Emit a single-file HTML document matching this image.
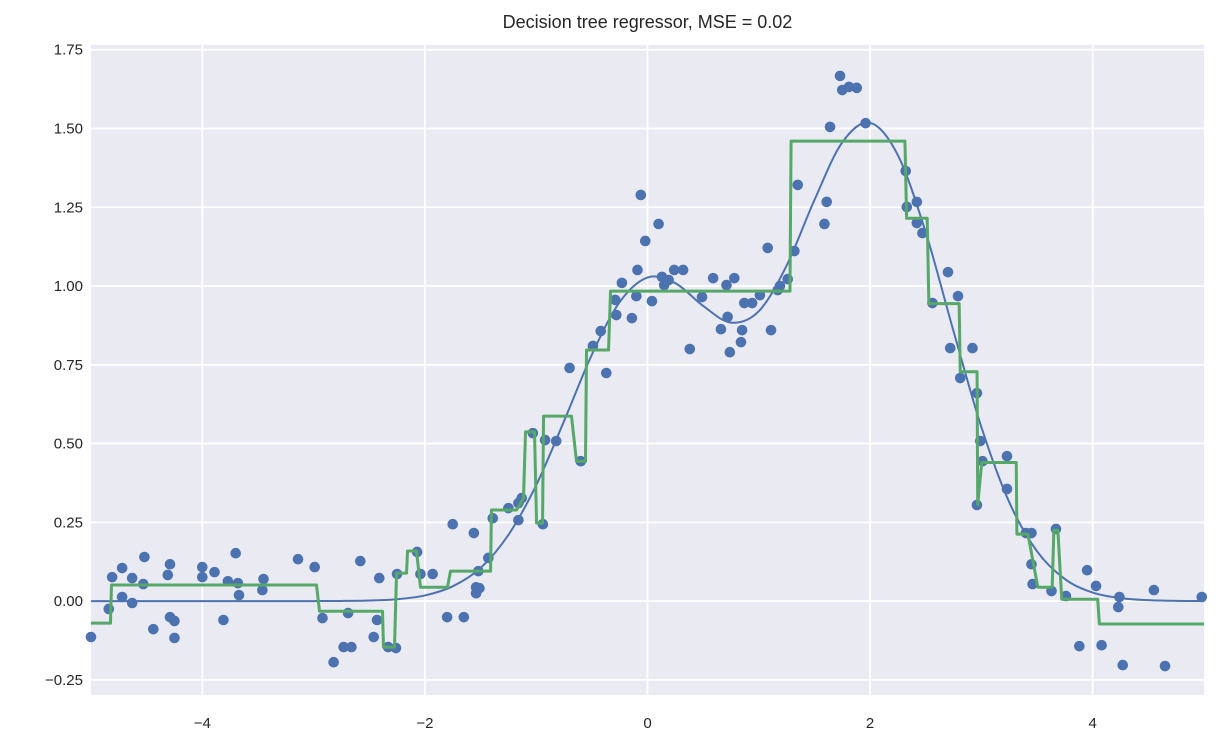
<!DOCTYPE html>
<html><head><meta charset="utf-8"><style>
body{margin:0;background:#fff;}
svg{display:block;font-family:"Liberation Sans",sans-serif;}
</style></head><body>
<svg id="chart" width="1219" height="750" xmlns="http://www.w3.org/2000/svg"></svg>
<script>
// ---- data ----
const xTicks=[-4,-2,0,2,4];
const yTicks=[-0.25,0,0.25,0.5,0.75,1,1.25,1.5,1.75];
const yTickLabels=["−0.25","0.00","0.25","0.50","0.75","1.00","1.25","1.50","1.75"];
const xTickLabels=["−4","−2","0","2","4"];
const curveX=[-5,-4.75,-4.5,-4.25,-4,-3.75,-3.5,-3.25,-3,-2.75,-2.5,-2.25,-2,-1.75,-1.5,-1.25,-1,-0.75,-0.5,-0.25,0,0.25,0.5,0.75,1,1.25,1.5,1.75,2,2.25,2.5,2.75,3,3.25,3.5,3.75,4,4.25,4.5,4.75,5];
const curveY=[0,0,0,0,0,0,0,0,0.0001,0.0005,0.002,0.006,0.018,0.047,0.105,0.210,0.368,0.571,0.782,0.949,1.027,1.009,0.937,0.884,0.920,1.065,1.273,1.456,1.518,1.415,1.170,0.856,0.552,0.314,0.158,0.070,0.027,0.0095,0.003,0.0008,0.0002];
const treeX=[-5,-4.825,-4.816,-2.974,-2.947,-2.381,-2.372,-2.273,-2.255,-2.165,-2.156,-2.075,-2.04,-1.797,-1.77,-1.41,-1.402,-1.177,-1.114,-1.096,-1.015,-0.997,-0.943,-0.934,-0.683,-0.638,-0.557,-0.548,-0.35,-0.332,1.28,1.29,2.313,2.328,2.513,2.528,2.8,2.81,2.961,2.967,3.003,3.313,3.319,3.418,3.507,3.636,3.651,3.687,3.722,4.045,4.06,5];
const treeY=[-0.07,-0.07,0.051,0.051,-0.032,-0.032,-0.146,-0.146,0.089,0.089,0.159,0.159,0.044,0.044,0.095,0.095,0.289,0.289,0.327,0.537,0.537,0.248,0.248,0.587,0.587,0.444,0.444,0.797,0.797,0.984,0.984,1.46,1.46,1.215,1.215,0.944,0.944,0.728,0.728,0.306,0.44,0.44,0.2125,0.2125,0.044,0.044,0.225,0.225,0.006,0.006,-0.0725,-0.0725];
const ptsX=[-5.00,-4.84,-4.81,-4.72,-4.72,-4.63,-4.63,-4.52,-4.53,-4.44,-4.31,-4.29,-4.29,-4.25,-4.25,-4.00,-4.00,-3.89,-3.81,-3.77,-3.70,-3.68,-3.67,-3.45,-3.46,-3.14,-2.99,-2.92,-2.82,-2.73,-2.66,-2.69,-2.58,-2.46,-2.43,-2.41,-2.33,-2.26,-2.25,-2.07,-2.04,-1.93,-1.80,-1.65,-1.75,-1.56,-1.54,-1.51,-1.54,-1.52,-1.43,-1.39,-1.25,-1.16,-1.16,-1.13,-1.03,-0.94,-0.92,-0.82,-0.70,-0.60,-0.49,-0.42,-0.37,-0.28,-0.29,-0.23,-0.14,-0.10,-0.09,-0.06,-0.02,0.04,0.10,0.13,0.15,0.19,0.24,0.32,0.38,0.49,0.59,0.66,0.71,0.72,0.74,0.78,0.84,0.85,0.87,0.94,1.01,1.08,1.11,1.19,1.26,1.32,1.35,1.17,1.59,1.61,1.64,1.73,1.75,1.81,1.88,1.96,2.32,2.33,2.42,2.42,2.47,2.56,2.70,2.79,2.72,2.92,2.81,2.96,2.99,3.01,2.96,3.23,3.23,3.40,3.45,3.45,3.46,3.63,3.67,3.76,3.95,4.03,3.88,4.08,4.24,4.23,4.27,4.55,4.65,4.98];
const ptsY=[-0.114,-0.025,0.076,0.105,0.013,0.073,-0.006,0.140,0.054,-0.089,0.083,0.117,-0.051,-0.063,-0.117,0.108,0.076,0.092,-0.060,0.063,0.152,0.057,0.019,0.070,0.035,0.133,0.108,-0.054,-0.194,-0.146,-0.146,-0.038,0.127,-0.114,-0.060,0.073,-0.146,-0.149,0.086,0.156,0.086,0.086,-0.051,-0.051,0.244,0.216,0.044,0.041,0.025,0.095,0.137,0.263,0.295,0.257,0.311,0.327,0.533,0.244,0.511,0.508,0.740,0.444,0.810,0.857,0.724,0.908,0.956,1.010,0.898,0.968,1.051,1.289,1.143,0.952,1.197,1.029,1.003,1.019,1.051,1.051,0.800,0.965,1.025,0.863,1.003,0.902,0.790,1.025,0.822,0.860,0.946,0.946,0.971,1.121,0.860,1.000,1.022,1.111,1.321,0.987,1.197,1.267,1.505,1.667,1.622,1.632,1.629,1.517,1.365,1.251,1.267,1.200,1.168,0.946,1.044,0.968,0.803,0.803,0.708,0.660,0.508,0.444,0.305,0.460,0.356,0.216,0.216,0.117,0.054,0.032,0.229,0.016,0.098,0.048,-0.143,-0.140,0.013,-0.019,-0.203,0.035,-0.206,0.013];

// ---- axes ----
const L=91,R=1204,T=45,B=695;
const X0=-5,X1=5,Y0=-0.298,Y1=1.765;
const sx=v=>L+(v-X0)/(X1-X0)*(R-L);
const sy=v=>B-(v-Y0)/(Y1-Y0)*(B-T);
const NS="http://www.w3.org/2000/svg";
const svg=document.getElementById('chart');
function mk(tag,attrs,parent){const e=document.createElementNS(NS,tag);for(const k in attrs)e.setAttribute(k,attrs[k]);(parent||svg).appendChild(e);return e;}

const bg=mk('rect',{x:L,y:T,width:R-L,height:B-T,fill:'#eaeaf2'});



xTicks.forEach((t,i)=>{
  const g=mk('line',{x1:sx(t),x2:sx(t),y1:T,y2:B,stroke:'#fff','stroke-width':1.8});
  
  
  const tx=mk('text',{x:sx(t),y:B+33,'text-anchor':'middle','font-size':15,fill:'#262626'});
  tx.textContent=xTickLabels[i];
  
  
});
yTicks.forEach((t,i)=>{
  const g=mk('line',{x1:L,x2:R,y1:sy(t),y2:sy(t),stroke:'#fff','stroke-width':1.8});
  
  
  const tx=mk('text',{x:L-8,y:sy(t)+5,'text-anchor':'end','font-size':15,fill:'#262626'});
  tx.textContent=yTickLabels[i];
  
  
});

// scatter
ptsX.forEach((x,i)=>{
  const c=mk('circle',{cx:sx(x),cy:sy(ptsY[i]),r:5.3,fill:'#4c72b0'});
  
  
});

// true function curve (Catmull-Rom)
const P=curveX.map((x,i)=>[sx(x),sy(curveY[i])]);
let d='M'+P[0][0]+','+P[0][1];
for(let i=0;i<P.length-1;i++){
  const p0=P[Math.max(0,i-1)],p1=P[i],p2=P[i+1],p3=P[Math.min(P.length-1,i+2)];
  const c1=[p1[0]+(p2[0]-p0[0])/6,p1[1]+(p2[1]-p0[1])/6];
  const c2=[p2[0]-(p3[0]-p1[0])/6,p2[1]-(p3[1]-p1[1])/6];
  d+=` C${c1[0]},${c1[1]} ${c2[0]},${c2[1]} ${p2[0]},${p2[1]}`;
}
const curve=mk('path',{d:d,fill:'none',stroke:'#4c72b0','stroke-width':2});



// tree prediction
const tp=treeX.map((x,i)=>sx(x)+','+sy(treeY[i])).join(' ');
const tree=mk('polyline',{points:tp,fill:'none',stroke:'#55a868','stroke-width':3,'stroke-linejoin':'round'});



const title=mk('text',{x:(L+R)/2,y:28,'text-anchor':'middle','font-size':18,fill:'#262626'});
title.textContent='Decision tree regressor, MSE = 0.02';


</script>
</body></html>
